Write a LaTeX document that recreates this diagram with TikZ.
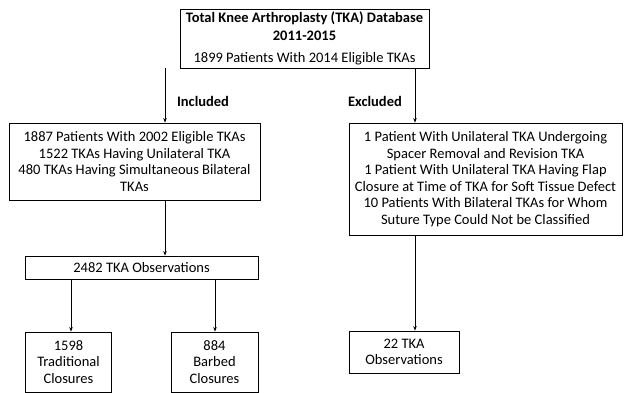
\documentclass[tikz,border=0pt]{standalone}
\usepackage{fontspec}
\setmainfont{Carlito}
\usetikzlibrary{arrows.meta}

\tikzset{
  box/.style={draw,line width=0.8pt,align=center,inner sep=1pt,
    font=\fontsize{14.5}{16.5}\selectfont},
  arr/.style={line width=0.8pt,-{Stealth[length=4.5pt,width=3.5pt]}},
  lbl/.style={font=\fontsize{14.5}{16}\selectfont\bfseries}
}

\begin{document}
\begin{tikzpicture}[x=1pt,y=-1pt]
\useasboundingbox (0,0) rectangle (624,393);
% boxes
\node[box,minimum width=249pt,minimum height=59pt,font=\fontsize{14.5}{18}\selectfont] (top) at (304.5,38.5)
  {\textbf{Total Knee Arthroplasty (TKA) Database}\\ \textbf{2011-2015}\\[4pt] 1899 Patients With 2014 Eligible TKAs};
\node[box,minimum width=251pt,minimum height=77pt] (incl) at (134.5,161.5)
  {1887 Patients With 2002 Eligible TKAs\\ 1522 TKAs Having Unilateral TKA\\ 480 TKAs Having Simultaneous Bilateral\\ TKAs};
\node[box,minimum width=273pt,minimum height=112pt] (excl) at (485.5,179)
  {1 Patient With Unilateral TKA Undergoing\\ Spacer Removal and Revision TKA\\ 1 Patient With Unilateral TKA Having Flap\\ Closure at Time of TKA for Soft Tissue Defect\\ 10 Patients With Bilateral TKAs for Whom\\ Suture Type Could Not be Classified};
\node[box,minimum width=233pt,minimum height=23pt] (obs) at (141.5,267.5)
  {2482 TKA Observations};
\node[box,minimum width=86pt,minimum height=60pt] (trad) at (68.5,362)
  {1598\\ Traditional\\ Closures};
\node[box,minimum width=87pt,minimum height=60pt] (barb) at (214.5,362)
  {884\\ Barbed\\ Closures};
\node[box,minimum width=110pt,minimum height=42pt] (ex22) at (404,352)
  {22 TKA\\ Observations};
% labels
\node[lbl] (inlbl) at (203,101) {Included};
\node[lbl] (exlbl) at (375,101) {Excluded};
% arrows
\coordinate (cI) at (165,0);
\coordinate (cE) at (415,0);
\coordinate (cT) at (71,0);
\coordinate (cB) at (215,0);
\draw[arr] (top.south -| cI) -- (incl.north -| cI);
\draw[arr] (top.south -| cE) -- (excl.north -| cE);
\draw[arr] (incl.south -| cI) -- (obs.north -| cI);
\draw[arr] (excl.south -| cE) -- (ex22.north -| cE);
\draw[arr] (obs.south -| cT) -- (trad.north -| cT);
\draw[arr] (obs.south -| cB) -- (barb.north -| cB);
\end{tikzpicture}
\end{document}
